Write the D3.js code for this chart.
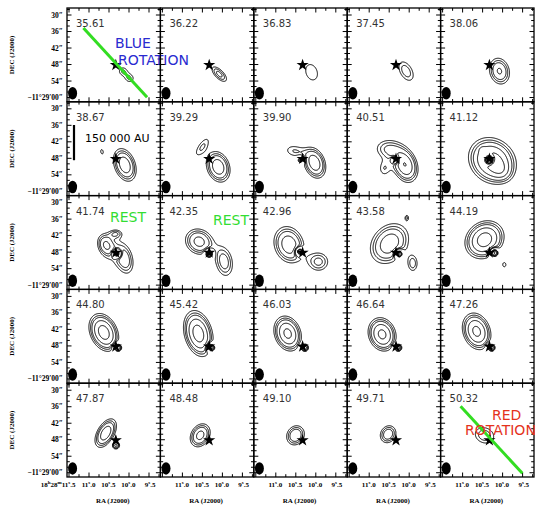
<!DOCTYPE html>
<html>
<head>
<meta charset="utf-8">
<script src="https://cdn.jsdelivr.net/npm/d3@7"></script>
<style>
body { margin: 0; background: #fff; }
text { font-family: "DejaVu Sans", sans-serif; }
.ax { font-family: "Liberation Serif", "DejaVu Serif", serif; font-weight: bold; font-size: 7.5px; }
</style>
</head>
<body>
<div class="canvas"></div>
<script>
// channel velocities (km/s)
const velocities = [35.61, 36.22, 36.83, 37.45, 38.06,
                    38.67, 39.29, 39.90, 40.51, 41.12,
                    41.74, 42.35, 42.96, 43.58, 44.19,
                    44.80, 45.42, 46.03, 46.64, 47.26,
                    47.87, 48.48, 49.10, 49.71, 50.32];

// emission components per channel:
// [dRA east ("), dDec north ("), sigma major ("), sigma minor ("), tilt (deg, clockwise on page), peak (sigma)]
const components = [
  [[-2.6, -2.2, 1.6, 1.5, 0, 4], [-5.1, -4.8, 1.6, 1.5, 0, 4]],
  [[-3.7, -3.3, 3.1, 1.4, 45, 5.5]],
  [[-3.3, -2.6, 4.0, 2.8, 70, 3.9]],
  [[-3.7, -2.2, 3.8, 2.2, 60, 4.8]],
  [[-3.7, -2.2, 3.6, 2.7, 75, 7.3]],
  [[-3.3, -2.2, 4.2, 2.6, 70, 9], [5.1, 2.6, 1.3, 0.7, 80, 3.5]],
  [[-3.3, -2.9, 3.9, 2.8, 70, 9], [2.6, 4.4, 4.0, 1.5, -55, 3.9]],
  [[-4.4, -1.5, 3.9, 2.6, 70, 9], [3.3, 2.9, 3.0, 2.0, 10, 3.9], [0.7, -0.4, 0.9, 0.9, 0, -8]],
  [[-3.3, -2.2, 4.3, 2.9, 70, 10], [3.3, 3.7, 3.6, 2.8, 0, 4.8], [4.4, -3.7, 2.4, 1.8, 90, 3.6], [0.4, -0.4, 0.9, 0.9, 0, -8]],
  [[-1.1, -0.7, 5.6, 4.8, 40, 12], [-4.0, -4.0, 2.5, 2.0, 45, 3], [2.6, 3.3, 0.8, 0.8, 0, 2], [0, -0.4, 1.0, 1.0, 0, -16]],
  [[3.7, 2.9, 2.8, 2.0, 70, 6], [-3.3, -2.6, 4.0, 2.2, 75, 5], [0, 6.9, 1.8, 1.2, 0, 4], [0.2, 0, 5.5, 4.5, 70, 2.5], [-0.4, -0.4, 1.0, 1.0, 0, -12]],
  [[3.7, 4.0, 3.7, 3.2, 30, 8], [-5.5, -3.3, 4.3, 2.5, 80, 6], [0, -0.4, 1.0, 1.0, 0, -12]],
  [[5.0, 2.9, 4.6, 3.6, 70, 9], [-5.9, -3.3, 3.0, 2.8, 0, 5.5], [1.1, 0.4, 1.0, 1.0, 0, -12]],
  [[2.4, 3.3, 5.4, 4.2, -50, 9], [-4.0, 12.7, 0.9, 0.6, 90, 3.6], [-6.2, -4.0, 2.6, 1.6, 90, 4.6], [-1.1, -0.4, 1.0, 1.0, 0, -12]],
  [[1.8, 4.7, 4.6, 3.9, -40, 12], [-5.5, -4.4, 1.2, 0.9, 90, 3.5], [-1.8, 0, 1.0, 1.0, 0, -14]],
  [[4.4, 5.1, 4.4, 3.0, 65, 12], [-0.7, -0.4, 1.0, 1.0, 0, -12]],
  [[4.0, 4.7, 5.2, 3.1, 75, 12], [-0.7, -0.4, 1.0, 1.0, 0, -12]],
  [[5.5, 4.7, 4.1, 3.0, 70, 11], [-0.7, -0.4, 1.0, 1.0, 0, -10]],
  [[5.1, 4.4, 3.9, 3.1, 70, 11], [-0.7, -0.4, 1.0, 1.0, 0, -10]],
  [[4.7, 5.5, 4.3, 3.1, 70, 11], [-0.7, -0.4, 1.0, 1.0, 0, -10]],
  [[3.7, 2.6, 3.9, 2.1, -60, 9], [0, -1.8, 1.0, 1.0, 0, -8]],
  [[3.3, 1.8, 3.2, 2.4, -60, 8]],
  [[2.6, 1.8, 2.8, 2.4, -60, 7]],
  [[2.9, 2.2, 2.6, 2.2, -60, 6.5]],
  [[1.8, 1.8, 3.4, 2.7, 20, 5]]
];

const levels = [3, 4, 5, 7, 10, 14];

// source position 18h28m10.33s -11d28m48.2s
const raStar = 10.33, decStar = 48.2;
const arcPerSec = 14.7;
const beam = [4.6, 3.3];           // FWHM major, minor (")
const scaleBar = 12.8;             // 150 000 AU in "

// axis ticks
const raTicks = [11.5, 11.0, 10.5, 10.0, 9.5];
const decTicks = [30, 36, 42, 48, 54, 60];
const decLabels = ['30″', '36″', '42″', '48″', '54″', '−11°29′00″'];

// rotation axes (offsets ")
const axes = [
  { panel: 0, pts: [[11.9, 13.5], [-11.5, -11.7]] },
  { panel: 24, pts: [[10.6, 12.4], [-12.1, -12.0]] }
];

const W = 536, H = 506;
const m = { left: 67, top: 8 };
const pw = 93.4, ph = 93.8;

const svg = d3.select('.canvas')
    .append('svg')
    .attr('width', W)
    .attr('height', H);

const x = d3.scaleLinear().domain([11.55, 9.215]).range([0, pw]);
const y = d3.scaleLinear().domain([27.45, 61.55]).range([0, ph]);
const k = pw / ((11.55 - 9.215) * arcPerSec);

const px = (dx) => x(raStar + dx / arcPerSec);
const py = (dy) => y(decStar - dy);

const step = 0.5;
const nx = Math.ceil(pw / step), ny = Math.ceil(ph / step);
const path = d3.geoPath(d3.geoIdentity().scale(step));
const contours = d3.contours().size([nx, ny]).thresholds(levels);

const field = (comps) => {
    const vals = new Array(nx * ny).fill(0);
    comps.forEach(([dx, dy, sa, sb, tilt, amp]) => {
        const cx = px(dx), cy = py(dy);
        const a = sa * k, b = sb * k;
        const t = tilt * Math.PI / 180, c = Math.cos(t), s = Math.sin(t);
        for (let j = 0; j < ny; j++) {
            for (let i = 0; i < nx; i++) {
                const u = (i + 0.5) * step - cx, v = (j + 0.5) * step - cy;
                const p = u * c + v * s, q = -u * s + v * c;
                vals[j * nx + i] += amp * Math.exp(-(p * p / (2 * a * a) + q * q / (2 * b * b)));
            }
        }
    });
    return vals;
};

svg.append('defs').append('clipPath').attr('id', 'pclip')
    .append('rect').attr('width', pw).attr('height', ph);

const panels = svg.selectAll('g.panel')
    .data(velocities)
    .join('g')
    .attr('class', 'panel')
    .attr('transform', (d, i) => `translate(${m.left + (i % 5) * pw},${m.top + Math.floor(i / 5) * ph})`);

panels.each(function (v, i) {
    const g = d3.select(this);
    const vals = field(components[i]);
    const neg = vals.map(d => -d);
    const shapes = contours(vals).concat(contours(neg));

    g.append('g')
        .attr('clip-path', 'url(#pclip)')
        .selectAll('path')
        .data(shapes)
        .join('path')
        .attr('d', path)
        .attr('fill', 'none')
        .attr('stroke', '#000')
        .attr('stroke-width', 1);

    // beam
    g.append('ellipse')
        .attr('cx', 5.6)
        .attr('cy', ph - 8.6)
        .attr('rx', beam[1] * k / 2)
        .attr('ry', beam[0] * k / 2)
        .attr('fill', '#000');

    // source
    g.append('path')
        .attr('d', d3.symbol(d3.symbolStar, 46))
        .attr('transform', `translate(${px(0)},${py(0)})`)
        .attr('fill', '#000');

    // frame + ticks
    g.append('rect')
        .attr('width', pw).attr('height', ph)
        .attr('fill', 'none').attr('stroke', '#000').attr('stroke-width', 1.3);

    const rt = d3.range(0, 10).map(n => 11.5 - n * 0.25);
    rt.forEach(t => {
        const len = Number.isInteger(t * 2) ? 4.5 : 2.8;
        g.append('line').attr('x1', x(t)).attr('x2', x(t)).attr('y1', 0).attr('y2', len);
        g.append('line').attr('x1', x(t)).attr('x2', x(t)).attr('y1', ph).attr('y2', ph - len);
    });
    d3.range(28, 62, 2).forEach(t => {
        const len = t % 6 === 0 ? 4.5 : 2.8;
        g.append('line').attr('y1', y(t)).attr('y2', y(t)).attr('x1', 0).attr('x2', len);
        g.append('line').attr('y1', y(t)).attr('y2', y(t)).attr('x1', pw).attr('x2', pw - len);
    });
    g.selectAll('line').attr('stroke', '#000').attr('stroke-width', 1);

    g.append('text')
        .attr('x', 9).attr('y', 19)
        .attr('font-size', 10)
        .attr('fill', '#333')
        .text(v.toFixed(2));

    const col = i % 5, row = Math.floor(i / 5);
    if (col === 0) {
        decTicks.forEach((t, n) => {
            g.append('text').attr('class', 'ax')
                .attr('x', -4).attr('y', y(t) + 2.5)
                .attr('text-anchor', 'end')
                .text(decLabels[n]);
        });
        g.append('text').attr('class', 'ax')
            .attr('transform', `translate(-53,${ph / 2}) rotate(-90)`)
            .attr('text-anchor', 'middle')
            .style('font-size', '7px')
            .text('DEC (J2000)');
    }
    if (row === 4) {
        raTicks.forEach((t, n) => {
            if (n === 0 && col !== 0) return;
            const parts = t.toFixed(1).split('.');
            const tx = g.append('text').attr('class', 'ax')
                .attr('x', x(t) + 6.5).attr('y', ph + 10)
                .attr('text-anchor', 'end')
                .style('font-size', '7px');
            const sup = (s) => {
                tx.append('tspan').attr('dy', -3).style('font-size', '5px').text(s);
            };
            if (n === 0) {
                tx.append('tspan').text('18'); sup('h');
                tx.append('tspan').attr('dy', 3).text('28'); sup('m');
                tx.append('tspan').attr('dy', 3).text(parts[0]);
            } else {
                tx.append('tspan').text(parts[0]);
            }
            sup('s');
            tx.append('tspan').attr('dy', 3).text('.' + parts[1]);
        });
        g.append('text').attr('class', 'ax')
            .attr('x', pw / 2 - 1).attr('y', ph + 26)
            .attr('text-anchor', 'middle')
            .style('font-size', '7px')
            .text('RA (J2000)');
    }
});

// annotations
const panelG = (i) => d3.select(panels.nodes()[i]);

axes.forEach(a => {
    panelG(a.panel).append('line')
        .attr('x1', px(a.pts[0][0])).attr('y1', py(a.pts[0][1]))
        .attr('x2', px(a.pts[1][0])).attr('y2', py(a.pts[1][1]))
        .attr('stroke', '#33dd22')
        .attr('stroke-width', 3);
});

const notes = [
  { panel: 0, text: 'BLUE', x: 48, y: 40.3, color: '#2a2ad0', size: 14 },
  { panel: 0, text: 'ROTATION', x: 51, y: 57, color: '#2a2ad0', size: 14 },
  { panel: 10, text: 'REST', x: 43, y: 26.4, color: '#33dd33', size: 14 },
  { panel: 11, text: 'REST', x: 52.6, y: 29.4, color: '#33dd33', size: 14 },
  { panel: 24, text: 'RED', x: 51.4, y: 36.8, color: '#e4321c', size: 14 },
  { panel: 24, text: 'ROTATION', x: 24.4, y: 51.8, color: '#e4321c', size: 14 },
  { panel: 5, text: '150 000 AU', x: 18, y: 40.2, color: '#000', size: 11 }
];

notes.forEach(n => {
    panelG(n.panel).append('text')
        .attr('x', n.x).attr('y', n.y)
        .attr('fill', n.color)
        .attr('font-size', n.size)
        .text(n.text);
});

// scale bar
const barTop = 23.2;
panelG(5).append('line')
    .attr('x1', 7).attr('x2', 7)
    .attr('y1', barTop)
    .attr('y2', barTop + (y(decStar + scaleBar) - y(decStar)))
    .attr('stroke', '#000')
    .attr('stroke-width', 2.2);
</script>
</body>
</html>
